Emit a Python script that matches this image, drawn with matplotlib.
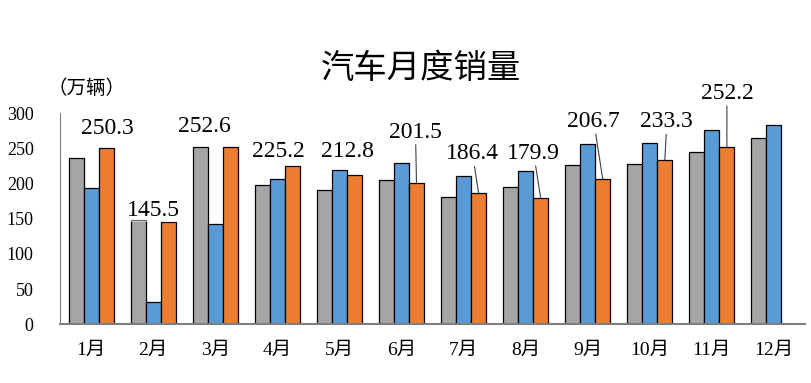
import matplotlib
matplotlib.use("Agg")
import matplotlib.pyplot as plt
import numpy as np

months = ["1月", "2月", "3月", "4月", "5月", "6月", "7月", "8月", "9月", "10月", "11月", "12月"]
sales_2019 = [236.7, 148.2, 252.0, 198.1, 191.3, 205.6, 180.8, 195.8, 227.1, 228.4, 245.4, 265.5]
sales_2020 = [194.1, 31.0, 143.1, 207.0, 219.4, 229.8, 211.2, 218.6, 256.5, 257.3, 276.5, 283.1]
sales_2021 = [250.3, 145.5, 252.6, 225.2, 212.8, 201.5, 186.4, 179.9, 206.7, 233.3, 252.2]

# label offsets (pixels from the top of the orange bar) and whether a leader line is drawn
label_dx = [1, -15, -26, -14, -7, -1, -6, -7, -9, 2, 0]
label_dy = [20, 11, 20, 14, 23, 40, 29, 34, 47, 28, 43]
leader = [False, False, False, False, False, True, True, True, True, True, True]

num_font = ["Liberation Serif", "Noto Sans CJK SC"]
cjk_font = ["Noto Sans CJK SC", "DejaVu Sans"]

fig = plt.figure(figsize=(8.11, 3.83), dpi=100)
ax = fig.add_axes([0.074, 0.1533, 0.9186, 0.5509])

x = np.arange(len(months))
w = 0.242
ax.bar(x - w, sales_2019, w, color="#A5A5A5", edgecolor="black", linewidth=0.9, zorder=2)
ax.bar(x, sales_2020, w, color="#5B9BD5", edgecolor="black", linewidth=0.9, zorder=2)
ax.bar(x[:len(sales_2021)] + w, sales_2021, w, color="#ED7D31", edgecolor="black", linewidth=0.9, zorder=2)

for i, v in enumerate(sales_2021):
    arrow = dict(arrowstyle="-", color="#404040", lw=0.8, shrinkA=1, shrinkB=0) if leader[i] else None
    ax.annotate(f"{v:.1f}", xy=(i + w, v), xytext=(label_dx[i], label_dy[i]),
                textcoords="offset pixels", ha="center", va="bottom" if leader[i] else "center",
                fontsize=17, family=num_font, annotation_clip=False, zorder=3,
                bbox=dict(fc="white", ec="none", alpha=0.45, pad=0.5),
                arrowprops=arrow)

ax.set_xlim(-0.5, 11.5)
ax.set_ylim(0, 300)
ax.set_yticks(range(0, 301, 50))
ax.set_xticks(x)
ax.set_xticklabels(months, family=num_font, fontsize=14)
for t in ax.get_yticklabels():
    t.set_family(num_font)
    t.set_fontsize(13)
ax.tick_params(axis="y", length=0, pad=19)
ax.tick_params(axis="x", length=0, pad=13)

for s in ["top", "right"]:
    ax.spines[s].set_visible(False)
ax.spines["left"].set_color("#7F7F7F")
ax.spines["left"].set_linewidth(0.8)
ax.spines["bottom"].set_color("#7F7F7F")
ax.spines["bottom"].set_linewidth(1.5)

fig.text(0.519, 0.822, "汽车月度销量", ha="center", va="center", fontsize=24, family=cjk_font)
fig.text(0.107, 0.768, "（万辆）", ha="center", va="center", fontsize=14, family=cjk_font)

fig.savefig("out.png", dpi=100)
